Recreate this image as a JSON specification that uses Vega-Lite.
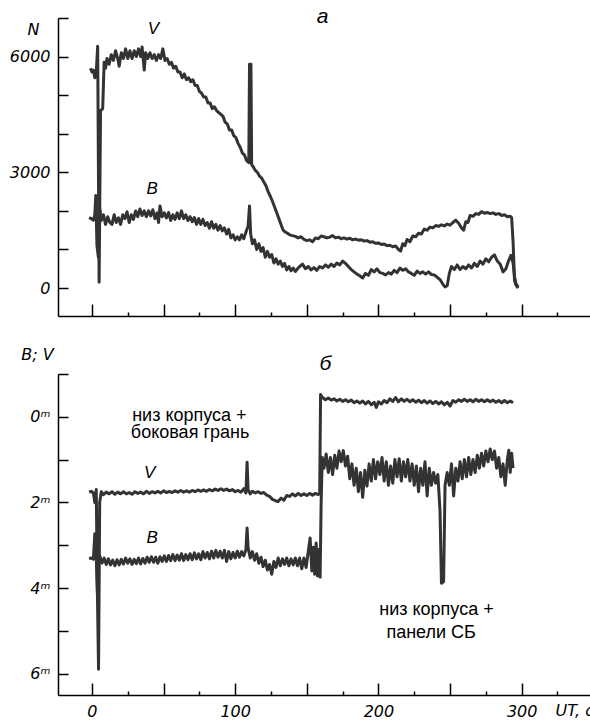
{
  "$schema": "https://vega.github.io/schema/vega-lite/v6.json",
  "padding": {"left": 9, "top": 6, "right": 0, "bottom": 0},
  "background": "white",
  "spacing": 58,
  "bounds": "flush",
  "config": {
    "view": {"stroke": null},
    "axis": {"grid": false, "domainColor": "black", "domainWidth": 1.5, "tickColor": "black", "tickWidth": 1.5, "labelColor": "black", "labelFont": "DejaVu Sans", "labelFontStyle": "italic", "labelFontSize": 16, "titleFont": "DejaVu Sans", "titleFontStyle": "italic", "titleFontWeight": "normal", "titleFontSize": 16, "titleColor": "black", "labelOverlap": false, "labelFlush": false}
  },
  "datasets": {
    "top": [
      {"s":"V","t":-1,"n":5700},{"s":"V","t":0,"n":5600},{"s":"V","t":1,"n":5650},{"s":"V","t":2,"n":5450},{"s":"V","t":3,"n":5600},{"s":"V","t":4,"n":6270},{"s":"V","t":5,"n":150},{"s":"V","t":6,"n":4600},{"s":"V","t":7.5,"n":4650},{"s":"V","t":8.5,"n":5850},{"s":"V","t":9.5,"n":5700},{"s":"V","t":10.5,"n":5950},{"s":"V","t":12,"n":5800},{"s":"V","t":13.5,"n":6050},{"s":"V","t":15,"n":5900},{"s":"V","t":16.5,"n":6150},{"s":"V","t":18,"n":5950},{"s":"V","t":19,"n":5750},{"s":"V","t":20.5,"n":6100},{"s":"V","t":22,"n":5950},{"s":"V","t":23.5,"n":6200},{"s":"V","t":25,"n":5950},{"s":"V","t":26.5,"n":6150},{"s":"V","t":28,"n":5950},{"s":"V","t":29.5,"n":6150},{"s":"V","t":31,"n":6000},{"s":"V","t":32.5,"n":6200},{"s":"V","t":34,"n":6000},{"s":"V","t":35,"n":6250},{"s":"V","t":36.5,"n":5650},{"s":"V","t":37.5,"n":6100},{"s":"V","t":39,"n":5950},{"s":"V","t":40.5,"n":6100},{"s":"V","t":42,"n":5950},{"s":"V","t":43.5,"n":6050},{"s":"V","t":45,"n":5900},{"s":"V","t":46.5,"n":6050},{"s":"V","t":48,"n":5950},{"s":"V","t":49.5,"n":6200},{"s":"V","t":51,"n":5900},{"s":"V","t":52.5,"n":5950},{"s":"V","t":54,"n":5800},{"s":"V","t":55.5,"n":5850},{"s":"V","t":57,"n":5700},{"s":"V","t":58.5,"n":5750},{"s":"V","t":60,"n":5600},{"s":"V","t":61.5,"n":5600},{"s":"V","t":63,"n":5450},{"s":"V","t":64.5,"n":5550},{"s":"V","t":66,"n":5400},{"s":"V","t":67.5,"n":5450},{"s":"V","t":69,"n":5350},{"s":"V","t":70.5,"n":5400},{"s":"V","t":72,"n":5250},{"s":"V","t":73.5,"n":5250},{"s":"V","t":75,"n":5100},{"s":"V","t":76.5,"n":5050},{"s":"V","t":78,"n":4950},{"s":"V","t":79.5,"n":4950},{"s":"V","t":81,"n":4800},{"s":"V","t":82.5,"n":4800},{"s":"V","t":84,"n":4650},{"s":"V","t":85.5,"n":4700},{"s":"V","t":87,"n":4600},{"s":"V","t":88.5,"n":4550},{"s":"V","t":90,"n":4500},{"s":"V","t":91.5,"n":4450},{"s":"V","t":93,"n":4300},{"s":"V","t":94.5,"n":4250},{"s":"V","t":96,"n":4100},{"s":"V","t":97.5,"n":4100},{"s":"V","t":99,"n":3950},{"s":"V","t":100.5,"n":3900},{"s":"V","t":102,"n":3750},{"s":"V","t":103.5,"n":3650},{"s":"V","t":105,"n":3500},{"s":"V","t":106.5,"n":3450},{"s":"V","t":108,"n":3300},{"s":"V","t":109.5,"n":3250},{"s":"V","t":110,"n":5800},{"s":"V","t":111,"n":5800},{"s":"V","t":111.5,"n":3200},{"s":"V","t":112.5,"n":3150},{"s":"V","t":114,"n":3050},{"s":"V","t":115.5,"n":3000},{"s":"V","t":117,"n":2900},{"s":"V","t":118.5,"n":2850},{"s":"V","t":120,"n":2750},{"s":"V","t":121.5,"n":2650},{"s":"V","t":123,"n":2500},{"s":"V","t":124.5,"n":2380},{"s":"V","t":126,"n":2250},{"s":"V","t":127.5,"n":2100},{"s":"V","t":129,"n":1950},{"s":"V","t":130.5,"n":1800},{"s":"V","t":132,"n":1650},{"s":"V","t":133.5,"n":1500},{"s":"V","t":135,"n":1450},{"s":"V","t":136.5,"n":1420},{"s":"V","t":138,"n":1380},{"s":"V","t":140,"n":1360},{"s":"V","t":142,"n":1340},{"s":"V","t":144,"n":1300},{"s":"V","t":146,"n":1330},{"s":"V","t":148,"n":1260},{"s":"V","t":150,"n":1230},{"s":"V","t":152,"n":1250},{"s":"V","t":154,"n":1200},{"s":"V","t":156,"n":1300},{"s":"V","t":158,"n":1280},{"s":"V","t":160,"n":1350},{"s":"V","t":162,"n":1330},{"s":"V","t":164,"n":1300},{"s":"V","t":166,"n":1320},{"s":"V","t":168,"n":1360},{"s":"V","t":170,"n":1300},{"s":"V","t":172,"n":1320},{"s":"V","t":174,"n":1280},{"s":"V","t":176,"n":1300},{"s":"V","t":178,"n":1270},{"s":"V","t":180,"n":1290},{"s":"V","t":182,"n":1250},{"s":"V","t":184,"n":1270},{"s":"V","t":186,"n":1240},{"s":"V","t":188,"n":1250},{"s":"V","t":190,"n":1220},{"s":"V","t":192,"n":1230},{"s":"V","t":194,"n":1190},{"s":"V","t":196,"n":1200},{"s":"V","t":198,"n":1160},{"s":"V","t":200,"n":1170},{"s":"V","t":202,"n":1130},{"s":"V","t":204,"n":1140},{"s":"V","t":206,"n":1100},{"s":"V","t":208,"n":1110},{"s":"V","t":210,"n":1070},{"s":"V","t":212,"n":1090},{"s":"V","t":214,"n":1000},{"s":"V","t":215.5,"n":960},{"s":"V","t":217,"n":1150},{"s":"V","t":218.5,"n":1100},{"s":"V","t":220,"n":1260},{"s":"V","t":222,"n":1200},{"s":"V","t":224,"n":1350},{"s":"V","t":226,"n":1330},{"s":"V","t":228,"n":1420},{"s":"V","t":230,"n":1400},{"s":"V","t":232,"n":1530},{"s":"V","t":234,"n":1500},{"s":"V","t":236,"n":1580},{"s":"V","t":238,"n":1560},{"s":"V","t":240,"n":1620},{"s":"V","t":242,"n":1600},{"s":"V","t":244,"n":1640},{"s":"V","t":246,"n":1610},{"s":"V","t":248,"n":1660},{"s":"V","t":250,"n":1630},{"s":"V","t":252,"n":1700},{"s":"V","t":254,"n":1760},{"s":"V","t":256,"n":1680},{"s":"V","t":258,"n":1560},{"s":"V","t":259.5,"n":1500},{"s":"V","t":261,"n":1720},{"s":"V","t":262.5,"n":1700},{"s":"V","t":264,"n":1880},{"s":"V","t":266,"n":1860},{"s":"V","t":268,"n":1930},{"s":"V","t":270,"n":1910},{"s":"V","t":272,"n":1980},{"s":"V","t":274,"n":1940},{"s":"V","t":276,"n":1960},{"s":"V","t":278,"n":1930},{"s":"V","t":280,"n":1950},{"s":"V","t":282,"n":1910},{"s":"V","t":284,"n":1930},{"s":"V","t":286,"n":1880},{"s":"V","t":288,"n":1900},{"s":"V","t":290,"n":1850},{"s":"V","t":292,"n":1860},{"s":"V","t":293,"n":1820},{"s":"V","t":294,"n":1200},{"s":"V","t":295,"n":200},{"s":"V","t":296,"n":80},{"s":"V","t":297.5,"n":0},
      {"s":"B","t":-2,"n":1830},{"s":"B","t":-0.5,"n":1800},{"s":"B","t":1,"n":1760},{"s":"B","t":2,"n":1900},{"s":"B","t":2.7,"n":2400},{"s":"B","t":3.5,"n":1100},{"s":"B","t":4.5,"n":800},{"s":"B","t":5.5,"n":2050},{"s":"B","t":6.5,"n":1750},{"s":"B","t":8,"n":1900},{"s":"B","t":9.5,"n":1650},{"s":"B","t":11,"n":1850},{"s":"B","t":12.5,"n":1700},{"s":"B","t":14,"n":1650},{"s":"B","t":15.5,"n":1900},{"s":"B","t":17,"n":1700},{"s":"B","t":18.5,"n":1820},{"s":"B","t":20,"n":1650},{"s":"B","t":21.5,"n":1900},{"s":"B","t":23,"n":1800},{"s":"B","t":24.5,"n":1980},{"s":"B","t":26,"n":1700},{"s":"B","t":27.5,"n":1900},{"s":"B","t":29,"n":1780},{"s":"B","t":30.5,"n":2000},{"s":"B","t":32,"n":1850},{"s":"B","t":33.5,"n":2050},{"s":"B","t":35,"n":1880},{"s":"B","t":36.5,"n":2000},{"s":"B","t":38,"n":1850},{"s":"B","t":39.5,"n":2000},{"s":"B","t":41,"n":1870},{"s":"B","t":42.5,"n":2030},{"s":"B","t":44,"n":1800},{"s":"B","t":45.5,"n":1950},{"s":"B","t":46.5,"n":1700},{"s":"B","t":47.5,"n":2130},{"s":"B","t":49,"n":1850},{"s":"B","t":50.5,"n":1950},{"s":"B","t":52,"n":1820},{"s":"B","t":53.5,"n":1960},{"s":"B","t":55,"n":1750},{"s":"B","t":56.5,"n":1900},{"s":"B","t":58,"n":1780},{"s":"B","t":59.5,"n":1950},{"s":"B","t":61,"n":1800},{"s":"B","t":62.5,"n":2000},{"s":"B","t":64,"n":1800},{"s":"B","t":65.5,"n":1900},{"s":"B","t":67,"n":1750},{"s":"B","t":68.5,"n":1850},{"s":"B","t":70,"n":1720},{"s":"B","t":71.5,"n":1830},{"s":"B","t":73,"n":1650},{"s":"B","t":74.5,"n":1800},{"s":"B","t":76,"n":1650},{"s":"B","t":77.5,"n":1780},{"s":"B","t":79,"n":1620},{"s":"B","t":80.5,"n":1700},{"s":"B","t":82,"n":1550},{"s":"B","t":83.5,"n":1720},{"s":"B","t":85,"n":1550},{"s":"B","t":86.5,"n":1650},{"s":"B","t":88,"n":1500},{"s":"B","t":89.5,"n":1620},{"s":"B","t":91,"n":1480},{"s":"B","t":92.5,"n":1560},{"s":"B","t":94,"n":1400},{"s":"B","t":95.5,"n":1520},{"s":"B","t":97,"n":1300},{"s":"B","t":98.5,"n":1380},{"s":"B","t":100,"n":1250},{"s":"B","t":101.5,"n":1330},{"s":"B","t":103,"n":1250},{"s":"B","t":104.5,"n":1380},{"s":"B","t":106,"n":1280},{"s":"B","t":107.5,"n":1450},{"s":"B","t":109,"n":1600},{"s":"B","t":110,"n":2130},{"s":"B","t":110.8,"n":1400},{"s":"B","t":112,"n":1150},{"s":"B","t":113.5,"n":1250},{"s":"B","t":115,"n":1000},{"s":"B","t":116.5,"n":1150},{"s":"B","t":118,"n":950},{"s":"B","t":119.5,"n":1050},{"s":"B","t":121,"n":800},{"s":"B","t":122.5,"n":950},{"s":"B","t":124,"n":800},{"s":"B","t":125.5,"n":870},{"s":"B","t":127,"n":650},{"s":"B","t":128.5,"n":760},{"s":"B","t":130,"n":620},{"s":"B","t":131.5,"n":700},{"s":"B","t":133,"n":560},{"s":"B","t":134.5,"n":640},{"s":"B","t":136,"n":470},{"s":"B","t":137.5,"n":560},{"s":"B","t":139,"n":450},{"s":"B","t":140.5,"n":520},{"s":"B","t":142,"n":430},{"s":"B","t":143.5,"n":500},{"s":"B","t":145,"n":560},{"s":"B","t":147,"n":620},{"s":"B","t":149,"n":500},{"s":"B","t":151,"n":560},{"s":"B","t":153,"n":470},{"s":"B","t":155,"n":530},{"s":"B","t":157,"n":460},{"s":"B","t":159,"n":560},{"s":"B","t":161,"n":520},{"s":"B","t":163,"n":600},{"s":"B","t":165,"n":540},{"s":"B","t":167,"n":620},{"s":"B","t":169,"n":560},{"s":"B","t":171,"n":650},{"s":"B","t":173,"n":600},{"s":"B","t":175,"n":700},{"s":"B","t":177,"n":640},{"s":"B","t":179,"n":560},{"s":"B","t":181,"n":480},{"s":"B","t":183,"n":420},{"s":"B","t":185,"n":360},{"s":"B","t":187,"n":320},{"s":"B","t":189,"n":260},{"s":"B","t":191,"n":380},{"s":"B","t":193,"n":330},{"s":"B","t":195,"n":480},{"s":"B","t":197,"n":420},{"s":"B","t":199,"n":500},{"s":"B","t":201,"n":400},{"s":"B","t":203,"n":380},{"s":"B","t":205,"n":340},{"s":"B","t":207,"n":400},{"s":"B","t":209,"n":360},{"s":"B","t":211,"n":460},{"s":"B","t":213,"n":400},{"s":"B","t":215,"n":520},{"s":"B","t":217,"n":460},{"s":"B","t":219,"n":500},{"s":"B","t":221,"n":420},{"s":"B","t":223,"n":380},{"s":"B","t":225,"n":330},{"s":"B","t":227,"n":440},{"s":"B","t":229,"n":380},{"s":"B","t":231,"n":420},{"s":"B","t":233,"n":360},{"s":"B","t":235,"n":420},{"s":"B","t":237,"n":350},{"s":"B","t":239,"n":340},{"s":"B","t":241,"n":280},{"s":"B","t":243,"n":220},{"s":"B","t":245,"n":100},{"s":"B","t":246.5,"n":30},{"s":"B","t":248,"n":60},{"s":"B","t":249.5,"n":380},{"s":"B","t":251,"n":560},{"s":"B","t":253,"n":480},{"s":"B","t":255,"n":600},{"s":"B","t":257,"n":480},{"s":"B","t":259,"n":560},{"s":"B","t":261,"n":500},{"s":"B","t":263,"n":600},{"s":"B","t":265,"n":520},{"s":"B","t":267,"n":640},{"s":"B","t":269,"n":560},{"s":"B","t":271,"n":700},{"s":"B","t":273,"n":620},{"s":"B","t":275,"n":760},{"s":"B","t":277,"n":680},{"s":"B","t":279,"n":800},{"s":"B","t":281,"n":860},{"s":"B","t":283,"n":700},{"s":"B","t":285,"n":620},{"s":"B","t":287,"n":420},{"s":"B","t":289,"n":500},{"s":"B","t":291,"n":720},{"s":"B","t":292.5,"n":850},{"s":"B","t":294,"n":650},{"s":"B","t":295,"n":300},{"s":"B","t":296,"n":120},{"s":"B","t":297.5,"n":20}
    ],
    "bot": [
      {"s":"V","t":-2,"m":1.76},{"s":"V","t":-0.5,"m":1.74},{"s":"V","t":1,"m":1.78},{"s":"V","t":2,"m":2.0},{"s":"V","t":3,"m":1.7},{"s":"V","t":3.8,"m":4.1},{"s":"V","t":4.6,"m":5.9},{"s":"V","t":5.4,"m":2.0},{"s":"V","t":6.5,"m":1.75},{"s":"V","t":8,"m":1.82},{"s":"V","t":10,"m":1.76},{"s":"V","t":12,"m":1.8},{"s":"V","t":14,"m":1.75},{"s":"V","t":16,"m":1.81},{"s":"V","t":18,"m":1.76},{"s":"V","t":20,"m":1.8},{"s":"V","t":22,"m":1.75},{"s":"V","t":24,"m":1.8},{"s":"V","t":26,"m":1.77},{"s":"V","t":28,"m":1.81},{"s":"V","t":30,"m":1.75},{"s":"V","t":32,"m":1.79},{"s":"V","t":34,"m":1.76},{"s":"V","t":36,"m":1.8},{"s":"V","t":38,"m":1.74},{"s":"V","t":40,"m":1.79},{"s":"V","t":42,"m":1.75},{"s":"V","t":44,"m":1.78},{"s":"V","t":46,"m":1.74},{"s":"V","t":48,"m":1.78},{"s":"V","t":50,"m":1.73},{"s":"V","t":52,"m":1.77},{"s":"V","t":54,"m":1.74},{"s":"V","t":56,"m":1.77},{"s":"V","t":58,"m":1.73},{"s":"V","t":60,"m":1.76},{"s":"V","t":62,"m":1.72},{"s":"V","t":64,"m":1.76},{"s":"V","t":66,"m":1.73},{"s":"V","t":68,"m":1.76},{"s":"V","t":70,"m":1.72},{"s":"V","t":72,"m":1.75},{"s":"V","t":74,"m":1.71},{"s":"V","t":76,"m":1.74},{"s":"V","t":78,"m":1.71},{"s":"V","t":80,"m":1.74},{"s":"V","t":82,"m":1.7},{"s":"V","t":84,"m":1.73},{"s":"V","t":86,"m":1.69},{"s":"V","t":88,"m":1.72},{"s":"V","t":90,"m":1.68},{"s":"V","t":92,"m":1.72},{"s":"V","t":94,"m":1.69},{"s":"V","t":96,"m":1.73},{"s":"V","t":98,"m":1.7},{"s":"V","t":100,"m":1.75},{"s":"V","t":102,"m":1.72},{"s":"V","t":104,"m":1.76},{"s":"V","t":106,"m":1.68},{"s":"V","t":107.5,"m":1.78},{"s":"V","t":108.3,"m":1.06},{"s":"V","t":109,"m":1.7},{"s":"V","t":110.5,"m":1.8},{"s":"V","t":112,"m":1.74},{"s":"V","t":114,"m":1.78},{"s":"V","t":116,"m":1.75},{"s":"V","t":118,"m":1.79},{"s":"V","t":120,"m":1.77},{"s":"V","t":122,"m":1.83},{"s":"V","t":124,"m":1.86},{"s":"V","t":126,"m":1.93},{"s":"V","t":128,"m":1.96},{"s":"V","t":130,"m":1.98},{"s":"V","t":132,"m":1.9},{"s":"V","t":134,"m":1.95},{"s":"V","t":136,"m":1.84},{"s":"V","t":138,"m":1.86},{"s":"V","t":140,"m":1.8},{"s":"V","t":142,"m":1.85},{"s":"V","t":144,"m":1.79},{"s":"V","t":146,"m":1.84},{"s":"V","t":148,"m":1.8},{"s":"V","t":150,"m":1.84},{"s":"V","t":152,"m":1.79},{"s":"V","t":154,"m":1.83},{"s":"V","t":156,"m":1.79},{"s":"V","t":158,"m":1.82},{"s":"V","t":159,"m":1.79},{"s":"V","t":159.6,"m":-0.52},{"s":"V","t":161,"m":-0.45},{"s":"V","t":163,"m":-0.4},{"s":"V","t":165,"m":-0.44},{"s":"V","t":167,"m":-0.39},{"s":"V","t":169,"m":-0.42},{"s":"V","t":171,"m":-0.37},{"s":"V","t":173,"m":-0.41},{"s":"V","t":175,"m":-0.36},{"s":"V","t":177,"m":-0.4},{"s":"V","t":179,"m":-0.35},{"s":"V","t":181,"m":-0.39},{"s":"V","t":183,"m":-0.33},{"s":"V","t":185,"m":-0.37},{"s":"V","t":187,"m":-0.32},{"s":"V","t":189,"m":-0.37},{"s":"V","t":191,"m":-0.3},{"s":"V","t":193,"m":-0.36},{"s":"V","t":195,"m":-0.28},{"s":"V","t":197,"m":-0.34},{"s":"V","t":198.5,"m":-0.22},{"s":"V","t":200,"m":-0.35},{"s":"V","t":202,"m":-0.3},{"s":"V","t":204,"m":-0.38},{"s":"V","t":206,"m":-0.33},{"s":"V","t":208,"m":-0.42},{"s":"V","t":210,"m":-0.36},{"s":"V","t":212,"m":-0.45},{"s":"V","t":214,"m":-0.35},{"s":"V","t":216,"m":-0.42},{"s":"V","t":218,"m":-0.36},{"s":"V","t":220,"m":-0.41},{"s":"V","t":222,"m":-0.35},{"s":"V","t":224,"m":-0.4},{"s":"V","t":226,"m":-0.34},{"s":"V","t":228,"m":-0.39},{"s":"V","t":230,"m":-0.33},{"s":"V","t":232,"m":-0.38},{"s":"V","t":234,"m":-0.32},{"s":"V","t":236,"m":-0.37},{"s":"V","t":238,"m":-0.31},{"s":"V","t":240,"m":-0.36},{"s":"V","t":242,"m":-0.3},{"s":"V","t":244,"m":-0.35},{"s":"V","t":246,"m":-0.28},{"s":"V","t":248,"m":-0.34},{"s":"V","t":250,"m":-0.25},{"s":"V","t":252,"m":-0.38},{"s":"V","t":254,"m":-0.34},{"s":"V","t":256,"m":-0.4},{"s":"V","t":258,"m":-0.36},{"s":"V","t":260,"m":-0.41},{"s":"V","t":262,"m":-0.36},{"s":"V","t":264,"m":-0.4},{"s":"V","t":266,"m":-0.35},{"s":"V","t":268,"m":-0.41},{"s":"V","t":270,"m":-0.36},{"s":"V","t":272,"m":-0.4},{"s":"V","t":274,"m":-0.35},{"s":"V","t":276,"m":-0.4},{"s":"V","t":278,"m":-0.35},{"s":"V","t":280,"m":-0.39},{"s":"V","t":282,"m":-0.34},{"s":"V","t":284,"m":-0.38},{"s":"V","t":286,"m":-0.33},{"s":"V","t":288,"m":-0.38},{"s":"V","t":290,"m":-0.33},{"s":"V","t":292,"m":-0.37},{"s":"V","t":294,"m":-0.33},
      {"s":"B","t":-2,"m":3.31},{"s":"B","t":-0.5,"m":3.3},{"s":"B","t":1,"m":3.33},{"s":"B","t":2,"m":2.73},{"s":"B","t":3,"m":3.3},{"s":"B","t":3.8,"m":4.12},{"s":"B","t":4.6,"m":3.4},{"s":"B","t":5.5,"m":3.25},{"s":"B","t":7,"m":3.42},{"s":"B","t":8.5,"m":3.3},{"s":"B","t":10,"m":3.45},{"s":"B","t":11.5,"m":3.32},{"s":"B","t":13,"m":3.46},{"s":"B","t":14.5,"m":3.35},{"s":"B","t":16,"m":3.48},{"s":"B","t":17.5,"m":3.34},{"s":"B","t":19,"m":3.46},{"s":"B","t":20.5,"m":3.33},{"s":"B","t":22,"m":3.44},{"s":"B","t":23.5,"m":3.3},{"s":"B","t":25,"m":3.42},{"s":"B","t":26.5,"m":3.32},{"s":"B","t":28,"m":3.45},{"s":"B","t":29.5,"m":3.33},{"s":"B","t":31,"m":3.43},{"s":"B","t":32.5,"m":3.3},{"s":"B","t":34,"m":3.44},{"s":"B","t":35.5,"m":3.31},{"s":"B","t":37,"m":3.42},{"s":"B","t":38.5,"m":3.28},{"s":"B","t":40,"m":3.4},{"s":"B","t":41.5,"m":3.27},{"s":"B","t":43,"m":3.4},{"s":"B","t":44.5,"m":3.28},{"s":"B","t":46,"m":3.42},{"s":"B","t":47.5,"m":3.27},{"s":"B","t":49,"m":3.38},{"s":"B","t":50.5,"m":3.25},{"s":"B","t":52,"m":3.38},{"s":"B","t":53.5,"m":3.24},{"s":"B","t":55,"m":3.36},{"s":"B","t":56.5,"m":3.22},{"s":"B","t":58,"m":3.36},{"s":"B","t":59.5,"m":3.23},{"s":"B","t":61,"m":3.35},{"s":"B","t":62.5,"m":3.2},{"s":"B","t":64,"m":3.36},{"s":"B","t":65.5,"m":3.22},{"s":"B","t":67,"m":3.34},{"s":"B","t":68.5,"m":3.2},{"s":"B","t":70,"m":3.34},{"s":"B","t":71.5,"m":3.18},{"s":"B","t":73,"m":3.32},{"s":"B","t":74.5,"m":3.2},{"s":"B","t":76,"m":3.34},{"s":"B","t":77.5,"m":3.15},{"s":"B","t":79,"m":3.3},{"s":"B","t":80.5,"m":3.17},{"s":"B","t":82,"m":3.32},{"s":"B","t":83.5,"m":3.14},{"s":"B","t":85,"m":3.3},{"s":"B","t":86.5,"m":3.12},{"s":"B","t":88,"m":3.28},{"s":"B","t":89.5,"m":3.14},{"s":"B","t":91,"m":3.3},{"s":"B","t":92.5,"m":3.12},{"s":"B","t":94,"m":3.38},{"s":"B","t":95.5,"m":3.15},{"s":"B","t":97,"m":3.32},{"s":"B","t":98.5,"m":3.17},{"s":"B","t":100,"m":3.3},{"s":"B","t":101.5,"m":3.14},{"s":"B","t":103,"m":3.28},{"s":"B","t":104.5,"m":3.15},{"s":"B","t":106,"m":3.25},{"s":"B","t":107.5,"m":3.1},{"s":"B","t":108.3,"m":2.6},{"s":"B","t":109,"m":3.05},{"s":"B","t":110.5,"m":3.3},{"s":"B","t":112,"m":3.15},{"s":"B","t":113.5,"m":3.35},{"s":"B","t":115,"m":3.2},{"s":"B","t":116.5,"m":3.42},{"s":"B","t":118,"m":3.28},{"s":"B","t":119.5,"m":3.5},{"s":"B","t":121,"m":3.35},{"s":"B","t":122.5,"m":3.58},{"s":"B","t":124,"m":3.45},{"s":"B","t":125.5,"m":3.68},{"s":"B","t":127,"m":3.38},{"s":"B","t":128.5,"m":3.52},{"s":"B","t":130,"m":3.3},{"s":"B","t":131.5,"m":3.48},{"s":"B","t":133,"m":3.32},{"s":"B","t":134.5,"m":3.45},{"s":"B","t":136,"m":3.3},{"s":"B","t":137.5,"m":3.48},{"s":"B","t":139,"m":3.32},{"s":"B","t":140.5,"m":3.46},{"s":"B","t":142,"m":3.3},{"s":"B","t":143.5,"m":3.48},{"s":"B","t":145,"m":3.3},{"s":"B","t":146.5,"m":3.55},{"s":"B","t":148,"m":3.3},{"s":"B","t":149.5,"m":3.52},{"s":"B","t":151,"m":3.15},{"s":"B","t":152.3,"m":2.83},{"s":"B","t":153.5,"m":3.6},{"s":"B","t":154.5,"m":3.05},{"s":"B","t":155.5,"m":3.68},{"s":"B","t":156.5,"m":2.95},{"s":"B","t":157.5,"m":3.72},{"s":"B","t":158.5,"m":3.1},{"s":"B","t":159.3,"m":3.75},{"s":"B","t":160,"m":2.0},{"s":"B","t":160.8,"m":0.95},{"s":"B","t":162,"m":1.2},{"s":"B","t":163.5,"m":0.87},{"s":"B","t":165,"m":1.3},{"s":"B","t":166.5,"m":0.95},{"s":"B","t":168,"m":1.35},{"s":"B","t":169.5,"m":0.9},{"s":"B","t":171,"m":1.2},{"s":"B","t":172.5,"m":0.8},{"s":"B","t":174,"m":1.05},{"s":"B","t":175.5,"m":0.79},{"s":"B","t":177,"m":1.15},{"s":"B","t":178.5,"m":0.92},{"s":"B","t":180,"m":1.45},{"s":"B","t":181.5,"m":1.1},{"s":"B","t":183,"m":1.6},{"s":"B","t":184.5,"m":1.2},{"s":"B","t":186,"m":1.75},{"s":"B","t":187.5,"m":1.3},{"s":"B","t":189,"m":1.88},{"s":"B","t":190.5,"m":1.25},{"s":"B","t":192,"m":1.62},{"s":"B","t":193.5,"m":1.1},{"s":"B","t":195,"m":1.5},{"s":"B","t":196.5,"m":1.0},{"s":"B","t":198,"m":1.45},{"s":"B","t":199.5,"m":1.05},{"s":"B","t":201,"m":1.35},{"s":"B","t":202.5,"m":0.95},{"s":"B","t":204,"m":1.5},{"s":"B","t":205.5,"m":1.05},{"s":"B","t":207,"m":1.6},{"s":"B","t":208.5,"m":1.15},{"s":"B","t":210,"m":1.55},{"s":"B","t":211.5,"m":1.0},{"s":"B","t":213,"m":1.4},{"s":"B","t":214.5,"m":0.98},{"s":"B","t":216,"m":1.5},{"s":"B","t":217.5,"m":1.05},{"s":"B","t":219,"m":1.4},{"s":"B","t":220.5,"m":1.0},{"s":"B","t":222,"m":1.5},{"s":"B","t":223.5,"m":1.1},{"s":"B","t":225,"m":1.6},{"s":"B","t":226.5,"m":1.15},{"s":"B","t":228,"m":1.75},{"s":"B","t":229.5,"m":1.2},{"s":"B","t":231,"m":1.6},{"s":"B","t":232.5,"m":1.05},{"s":"B","t":234,"m":1.85},{"s":"B","t":235.5,"m":1.2},{"s":"B","t":237,"m":1.6},{"s":"B","t":238.5,"m":1.3},{"s":"B","t":240,"m":1.55},{"s":"B","t":241.5,"m":1.35},{"s":"B","t":243,"m":2.2},{"s":"B","t":244,"m":3.89},{"s":"B","t":245.5,"m":3.85},{"s":"B","t":246.5,"m":1.6},{"s":"B","t":248,"m":1.3},{"s":"B","t":249.5,"m":1.6},{"s":"B","t":251,"m":1.1},{"s":"B","t":252.5,"m":1.85},{"s":"B","t":254,"m":1.2},{"s":"B","t":255.5,"m":1.5},{"s":"B","t":257,"m":1.05},{"s":"B","t":258.5,"m":1.45},{"s":"B","t":260,"m":1.0},{"s":"B","t":261.5,"m":1.4},{"s":"B","t":263,"m":0.95},{"s":"B","t":264.5,"m":1.35},{"s":"B","t":266,"m":1.0},{"s":"B","t":267.5,"m":1.3},{"s":"B","t":269,"m":0.9},{"s":"B","t":270.5,"m":1.2},{"s":"B","t":272,"m":0.85},{"s":"B","t":273.5,"m":1.15},{"s":"B","t":275,"m":0.8},{"s":"B","t":276.5,"m":1.05},{"s":"B","t":278,"m":0.75},{"s":"B","t":279.5,"m":1.0},{"s":"B","t":281,"m":0.8},{"s":"B","t":282.5,"m":1.2},{"s":"B","t":284,"m":0.95},{"s":"B","t":285.5,"m":1.4},{"s":"B","t":287,"m":1.1},{"s":"B","t":288.5,"m":1.6},{"s":"B","t":290,"m":1.0},{"s":"B","t":291,"m":0.78},{"s":"B","t":292,"m":1.3},{"s":"B","t":293,"m":0.85},{"s":"B","t":294,"m":1.2}
    ]
  },
  "vconcat": [
    {
      "width": 532,
      "height": 298,
      "layer": [
        {
          "data": {"name": "top"},
          "mark": {"type": "line", "stroke": "#333333", "strokeWidth": 3, "strokeJoin": "round"},
          "encoding": {
            "x": {"field": "t", "type": "quantitative", "scale": {"domain": [-23.7, 347.7], "nice": false, "zero": false},
              "axis": {"values": [0,25,50,75,100,125,150,175,200,225,250,275,300,325], "labels": false, "title": null,
                "tickSize": {"condition": {"test": "datum.value % 50 === 0", "value": -12}, "value": -4}}},
            "y": {"field": "n", "type": "quantitative", "scale": {"domain": [-724, 7000], "nice": false, "zero": false},
              "axis": {"values": [0,1000,2000,3000,4000,5000,6000,7000], "tickSize": -10, "labelPadding": 18,
                "labelExpr": "datum.value % 3000 === 0 ? '' + datum.value : ''",
                "title": "N", "titleAngle": 0, "titleX": -25, "titleY": 16, "titleAlign": "center", "titleBaseline": "alphabetic"}},
            "detail": {"field": "s"}
          }
        },
        {
          "data": {"values": [{"t": 43, "n": 6584, "label": "V"}, {"t": 42, "n": 2436, "label": "B"}, {"t": 161, "n": 6869, "label": "а"}]},
          "mark": {"type": "text", "font": "Liberation Sans", "fontStyle": "italic", "fontSize": 18, "align": "center", "baseline": "alphabetic", "color": "black"},
          "encoding": {
            "x": {"field": "t", "type": "quantitative"},
            "y": {"field": "n", "type": "quantitative"},
            "text": {"field": "label"},
            "size": {"condition": {"test": "datum.label === 'а'", "value": 21}, "value": 17}
          }
        }
      ]
    },
    {
      "width": 532,
      "height": 321,
      "layer": [
        {
          "data": {"name": "bot"},
          "mark": {"type": "line", "stroke": "#333333", "strokeWidth": 3, "strokeJoin": "round"},
          "encoding": {
            "x": {"field": "t", "type": "quantitative", "scale": {"domain": [-23.7, 347.7], "nice": false, "zero": false},
              "axis": {"values": [0,25,50,75,100,125,150,175,200,225,250,275,300,325], "labelPadding": 20,
                "labelExpr": "datum.value % 100 === 0 ? '' + datum.value : ''",
                "tickSize": {"condition": {"test": "datum.value % 50 === 0", "value": -12}, "value": -4},
                "title": "UT, с", "titleX": 497, "titleY": 20, "titleAlign": "left", "titleBaseline": "alphabetic", "titleAnchor": "start"}},
            "y": {"field": "m", "type": "quantitative", "scale": {"domain": [-1, 6.5], "nice": false, "zero": false, "reverse": true},
              "axis": {"values": [-1,-0.5,0,0.5,1,1.5,2,2.5,3,3.5,4,4.5,5,5.5,6], "tickSize": -10, "labelPadding": 18,
                "labelExpr": "datum.value % 2 === 0 ? datum.value + 'ᵐ' : ''",
                "title": "B; V", "titleAngle": 0, "titleX": -21, "titleY": -15, "titleAlign": "center", "titleBaseline": "alphabetic"}},
            "detail": {"field": "s"}
          }
        },
        {
          "data": {"values": [{"t": 40.3, "m": 1.42, "label": "V"}, {"t": 42, "m": 2.96, "label": "B"}, {"t": 163, "m": -1.086, "label": "б"}]},
          "mark": {"type": "text", "font": "Liberation Sans", "fontStyle": "italic", "align": "center", "baseline": "alphabetic", "color": "black"},
          "encoding": {
            "x": {"field": "t", "type": "quantitative"},
            "y": {"field": "m", "type": "quantitative"},
            "text": {"field": "label"},
            "size": {"condition": {"test": "datum.label === 'б'", "value": 21}, "value": 17}
          }
        },
        {
          "data": {"values": [{"t": 68, "m": 0.09, "label": "низ корпуса +"}, {"t": 68.5, "m": 0.5, "label": "боковая грань"}, {"t": 240.5, "m": 4.64, "label": "низ корпуса +"}, {"t": 236.8, "m": 5.17, "label": "панели СБ"}]},
          "mark": {"type": "text", "font": "Liberation Sans", "fontSize": 18, "align": "center", "baseline": "alphabetic", "color": "black"},
          "encoding": {
            "x": {"field": "t", "type": "quantitative"},
            "y": {"field": "m", "type": "quantitative"},
            "text": {"field": "label"}
          }
        }
      ]
    }
  ]
}
